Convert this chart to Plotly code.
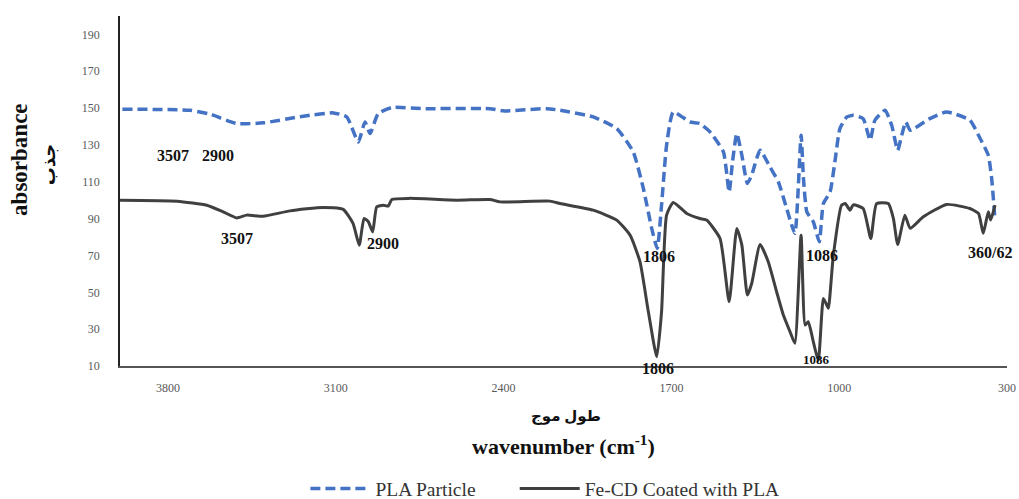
import plotly.graph_objects as go

# ---- data (wavenumber cm-1, absorbance) ----
fecd_wavenumber = [4000, 3762, 3638, 3570, 3513, 3472, 3403, 3291, 3153, 3069, 3028, 3002,
                   2982, 2964, 2946, 2929, 2902, 2881, 2866, 2790, 2595, 2457, 2415, 2206,
                   2164, 2026, 1928, 1872, 1831, 1796, 1761, 1741, 1720, 1692, 1636, 1581,
                   1553, 1497, 1459, 1427, 1406, 1383, 1365, 1330, 1296, 1261, 1233, 1205,
                   1185, 1159, 1142, 1129, 1108, 1087, 1066, 1052, 1045, 1025, 990, 975, 955,
                   941, 900, 868, 844, 795, 774, 756, 726, 704, 649, 552, 455, 419, 399,
                   378, 368, 350]
fecd_absorbance = [100, 99.5, 97.3, 93.7, 90.4, 91.9, 91.3, 94.2, 96.1, 95, 87.4, 75.6,
                   90.1, 88.3, 82.8, 96.4, 97.3, 96.8, 100.4, 101, 100, 100.4, 99.1, 99.5,
                   98.2, 94.6, 89.2, 81, 66.6, 39.4, 15, 39.4, 91.9, 98.8, 92.8, 90.1,
                   89.2, 79.2, 44.9, 84.7, 75.6, 48.5, 54.8, 76, 66.6, 50.3, 37.7, 28.6,
                   22.3, 81, 32.2, 34, 23.2, 13, 46.7, 43.1, 41.3, 69.3, 97.3, 98.2, 94.6,
                   97.5, 95.5, 79.2, 98.2, 98.2, 90.1, 76, 91.9, 84.7, 91, 97.7, 95.5, 92.8, 82,
                   93.7, 89.2, 97.3]

pla_wavenumber = [3990, 3708, 3624, 3513, 3402, 3235, 3110, 3054, 3006, 2978, 2957, 2923,
                  2866, 2735, 2457, 2401, 2220, 2164, 2026, 1928, 1859, 1817, 1782, 1759,
                  1741, 1720, 1692, 1623, 1581, 1539, 1483, 1459, 1445, 1427, 1406, 1383,
                  1365, 1330, 1289, 1254, 1219, 1185, 1159, 1149, 1135, 1108, 1083, 1066,
                  1038, 1018, 997, 968, 941, 900, 871, 851, 809, 781, 756, 739, 722, 704,
                  622, 552, 455, 412, 378, 364, 350]
pla_absorbance = [149.4, 148.8, 146.7, 141.6, 142, 145.6, 147.4, 145.2, 131.6, 142.5, 136.2, 147,
                  150.3, 149.7, 149.7, 148.5, 149.7, 148.8, 145.2, 138.9, 126.2, 106.4, 84.7, 73.8,
                  97.3, 129.8, 147.9, 142.5, 141.6, 137.1, 126.2, 104.5, 120.8, 136.2, 124.4, 109.1,
                  113.6, 127.1, 118.1, 110, 95.5, 82, 135.3, 111.8, 93.7, 88.3, 77.4, 98.2,
                  104.5, 120.8, 138.9, 145.2, 146.1, 144.3, 132.6, 143.4, 148.8, 140.7, 127.1, 135.3,
                  142.5, 138, 144.3, 147.9, 143.4, 133.5, 124.4, 111.8, 89.2]

x_ticks = [3800, 3100, 2400, 1700, 1000, 300]
y_ticks = [10, 30, 50, 70, 90, 110, 130, 150, 170, 190]

series_names = ["PLA Particle", "Fe-CD Coated with PLA"]

# peak labels: (text, wavenumber, absorbance, font size)
peak_labels = [
    ("3507", 3779, 124.4, 16), ("2900", 3591, 124.4, 16),
    ("3507", 3512, 79.4, 16), ("2900", 2903, 76.7, 16),
    ("1806", 1751, 69.7, 16), ("1086", 1072, 70.2, 16), ("360/62", 371, 71.8, 16),
    ("1086", 1093, 13.3, 13),
]
# label sitting on the axis line (below the data range), placed in paper height
axis_label = ("1806", 1755, -0.006, 16)

SERIF = "Liberation Serif, Times New Roman, DejaVu Serif, DejaVu Sans"

fig = go.Figure()
fig.add_trace(go.Scatter(
    x=pla_wavenumber, y=pla_absorbance, mode="lines",
    name=series_names[0] + "\u00a0" * 7,
    line=dict(color="#4472C4", width=3.5, dash="10px,5px", shape="spline", smoothing=0.5),
))
fig.add_trace(go.Scatter(
    x=fecd_wavenumber, y=fecd_absorbance, mode="lines", name=series_names[1],
    line=dict(color="#404040", width=3, shape="spline", smoothing=0.5),
))

for txt, xv, yv, fs in peak_labels:
    fig.add_annotation(x=xv, y=yv, text=f"<b>{txt}</b>", showarrow=False,
                       xanchor="center", yanchor="middle",
                       font=dict(family=SERIF, size=fs, color="#111111"))
fig.add_annotation(x=axis_label[1], y=axis_label[2], xref="x", yref="paper",
                   text=f"<b>{axis_label[0]}</b>", showarrow=False,
                   xanchor="center", yanchor="middle",
                   font=dict(family=SERIF, size=axis_label[3], color="#111111"))

# axis titles as annotations
fig.add_annotation(xref="paper", yref="paper", x=-0.1127, y=0.589, text="<b>absorbance</b>",
                   textangle=-90, showarrow=False, xanchor="center", yanchor="middle",
                   font=dict(family=SERIF, size=23, color="#111111"))
fig.add_annotation(xref="paper", yref="paper", x=-0.080, y=0.574, text="<b>جذب</b>",
                   textangle=-90, showarrow=False, xanchor="center", yanchor="middle",
                   font=dict(family=SERIF, size=18, color="#111111"))
fig.add_annotation(xref="paper", yref="paper", x=0.503, y=-0.143, text="<b>طول موج</b>",
                   showarrow=False, xanchor="center", yanchor="middle",
                   font=dict(family=SERIF, size=15, color="#111111"))
fig.add_annotation(xref="paper", yref="paper", x=0.50, y=-0.226,
                   text="<b>wavenumber (cm<sup>-1</sup>)</b>",
                   showarrow=False, xanchor="center", yanchor="middle",
                   font=dict(family=SERIF, size=22, color="#111111"))

fig.update_layout(
    width=1019, height=499,
    margin=dict(l=120, r=12, t=16, b=133, autoexpand=False),
    paper_bgcolor="white", plot_bgcolor="white",
    font=dict(family=SERIF, size=12, color="#595959"),
    showlegend=True,
    legend=dict(orientation="h", x=0.209, xanchor="left", y=-0.351, yanchor="middle",
                font=dict(family=SERIF, size=19.5, color="#333333"),
                itemwidth=60, tracegroupgap=0),
    xaxis=dict(range=[4000, 300], tickvals=x_ticks, ticktext=[str(v) for v in x_ticks],
               showgrid=False, zeroline=False, showline=True, linecolor="#555555",
               linewidth=1.5, ticks="outside", ticklen=10, tickcolor="rgba(0,0,0,0)",
               tickfont=dict(family=SERIF, size=12, color="#595959")),
    yaxis=dict(range=[10, 200], tickvals=y_ticks, showgrid=False, zeroline=False,
               showline=True, linecolor="#222222", linewidth=1.5, ticks="outside",
               ticklen=16, tickcolor="rgba(0,0,0,0)",
               tickfont=dict(family=SERIF, size=12, color="#595959")),
)

fig.write_html("out.html", config={"displayModeBar": False},
               post_script="document.body.style.margin='0';document.body.style.overflow='hidden';")
